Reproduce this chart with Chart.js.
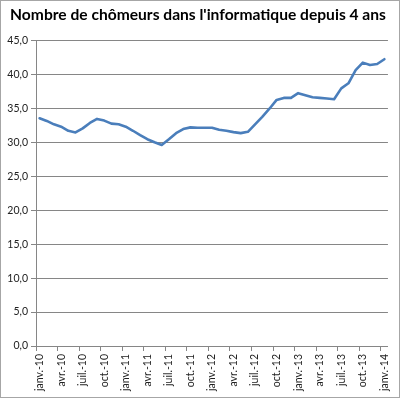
<!DOCTYPE html>
<html>
<head>
<meta charset="utf-8">
<script src="https://cdn.jsdelivr.net/npm/chart.js@4"></script>
<style>
html,body{margin:0;padding:0;background:#fff;}
#wrap{width:400px;height:398px;position:relative;}
</style>
</head>
<body>
<div id="wrap"><canvas id="c" width="400" height="398"></canvas></div>
<script>
const title = "Nombre de chômeurs dans l'informatique depuis 4 ans";
const monthNames = ["janv.","févr.","mars","avr.","mai","juin","juil.","août","sept.","oct.","nov.","déc."];
const years = ["10","11","12","13","14"];
const categories = [];
for (const y of years) {
  for (const m of monthNames) {
    categories.push(m + "-" + y);
    if (y === "14") break;
  }
}
const chomeurs = [33.6, 33.2, 32.7, 32.35, 31.75, 31.5, 32.1, 32.9, 33.5, 33.25,
                  32.8, 32.7, 32.35, 31.75, 31.1, 30.5, 30.05, 29.65, 30.5, 31.4,
                  32.0, 32.25, 32.2, 32.2, 32.2, 31.9, 31.75, 31.55, 31.4, 31.6,
                  32.7, 33.8, 35.0, 36.3, 36.6, 36.6, 37.3, 37.0, 36.7, 36.6,
                  36.5, 36.4, 38.0, 38.75, 40.7, 41.8, 41.45, 41.6, 42.3];
const yTicks = [0, 5, 10, 15, 20, 25, 30, 35, 40, 45];

const frame = {
  id: 'frame',
  afterDraw(chart) {
    const c = chart.ctx;
    c.save();
    c.strokeStyle = '#a6a6a6';
    c.lineWidth = 1;
    c.strokeRect(0.5, 0.5, chart.width - 1, chart.height - 1);
    c.restore();
  }
};

new Chart(document.getElementById('c'), {
  type: 'line',
  data: {
    labels: categories,
    datasets: [{
      data: chomeurs,
      borderColor: '#4a7ebb',
      borderWidth: 2.6,
      pointRadius: 0,
      tension: 0,
      fill: false,
      borderJoinStyle: 'round',
      borderCapStyle: 'round'
    }]
  },
  options: {
    responsive: false,
    animation: false,
    devicePixelRatio: 1,
    layout: { padding: { top: 6, right: 4, bottom: 0, left: 0 } },
    plugins: {
      legend: { display: false },
      tooltip: { enabled: false },
      title: {
        display: true,
        text: title,
        color: '#000',
        font: { family: 'Lato', size: 15.6, weight: 'bold', lineHeight: 1.15 },
        padding: { top: 0, bottom: 17 }
      }
    },
    scales: {
      x: {
        type: 'category',
        offset: true,
        afterFit(s) { s.height = 52; },
        grid: {
          offset: true,
          drawOnChartArea: false,
          drawTicks: true,
          tickLength: 5,
          color: ctx => (ctx.index !== undefined && ctx.index % 3 === 0) ? '#868686' : 'rgba(0,0,0,0)'
        },
        border: { display: true, color: '#868686', width: 1 },
        ticks: {
          autoSkip: false,
          maxRotation: 90,
          minRotation: 90,
          padding: 3,
          color: '#222',
          font: { family: 'Lato', size: 10.5 },
          callback: function(v, i) { return i % 3 === 0 ? categories[i] : ''; }
        }
      },
      y: {
        min: 0,
        max: 45,
        afterFit(s) { s.width = 36; },
        afterBuildTicks(s) { s.ticks = yTicks.map(v => ({ value: v })); },
        grid: { color: '#868686', tickLength: 5, drawTicks: true },
        border: { display: true, color: '#868686', width: 1 },
        ticks: {
          padding: 3,
          color: '#222',
          font: { family: 'Lato', size: 10.5 },
          callback: v => v.toFixed(1).replace('.', ',')
        }
      }
    }
  },
  plugins: [frame]
});
</script>
</body>
</html>
